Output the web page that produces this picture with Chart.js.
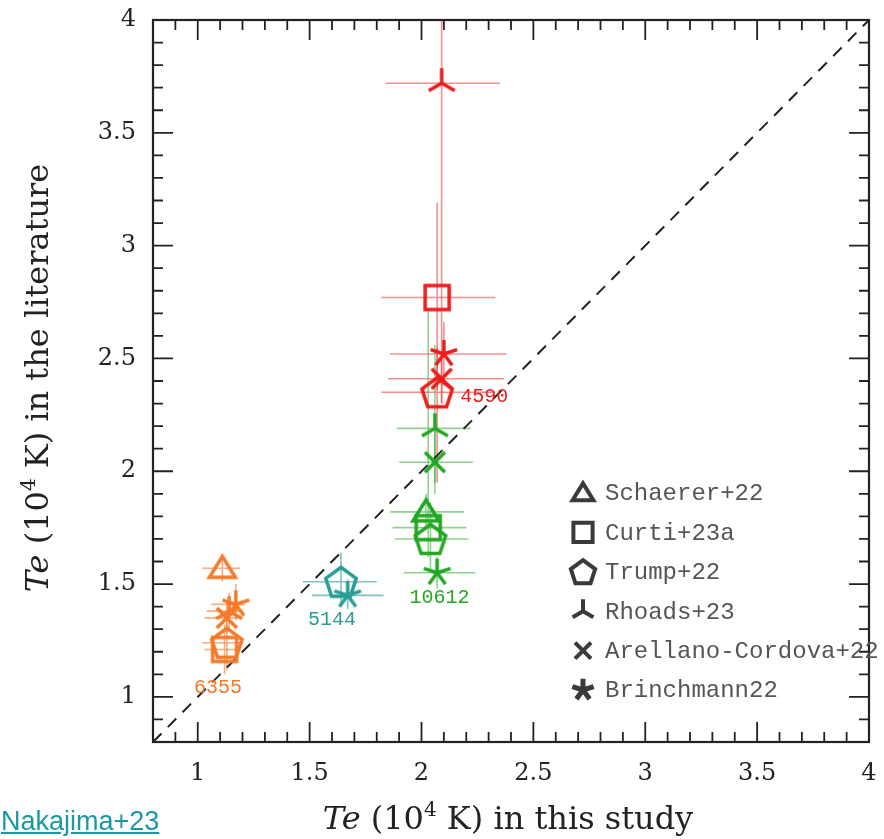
<!DOCTYPE html>
<html>
<head>
<meta charset="utf-8">
<script src="https://cdn.jsdelivr.net/npm/chart.js@4/dist/chart.umd.min.js"></script>
<style>
  html, body { margin: 0; padding: 0; background: #fff; }
  #wrap { position: relative; width: 884px; height: 839px; }
  #credit {
    position: absolute; left: 1px; top: 808px;
    font: 27px/27px "Liberation Sans", Arial, sans-serif;
    color: #1b98a3; text-decoration: underline;
  }
</style>
</head>
<body>
<div id="wrap">
  <canvas id="teChart" width="884" height="839"></canvas>
  <a id="credit" href="#">Nakajima+23</a>
</div>
<script>
// literature sources, in legend order
const sources = ["Schaerer+22", "Curti+23a", "Trump+22", "Rhoads+23", "Arellano-Cordova+22", "Brinchmann22"];
const shapes = ["triangle", "square", "pentagon", "tripod", "cross", "asterisk"];
const galaxyIds = ["4590", "10612", "5144", "6355"];

// Te in 1e4 K: [source, this study, lo, hi, literature, lo, hi]
const te4590 = [
  [1, 2.07, 1.82, 2.33, 2.77, 2.36, 3.19],
  [3, 2.09, 1.84, 2.35, 3.72, 2.30, 4.40],
  [5, 2.10, 1.86, 2.38, 2.52, 2.38, 2.66],
  [4, 2.09, 1.85, 2.37, 2.41, 2.30, 2.52],
  [2, 2.07, 1.82, 2.33, 2.35, 1.95, 2.55]
];
const te10612 = [
  [0, 2.02, 1.86, 2.19, 1.82, 1.76, 1.90],
  [1, 2.03, 1.87, 2.20, 1.75, 1.62, 2.72],
  [2, 2.04, 1.88, 2.21, 1.70, 1.56, 1.86],
  [3, 2.06, 1.89, 2.22, 2.19, 1.95, 2.56],
  [4, 2.06, 1.90, 2.23, 2.04, 1.90, 2.18],
  [5, 2.07, 1.92, 2.24, 1.55, 1.48, 1.62]
];
const te5144 = [
  [2, 1.64, 1.47, 1.80, 1.51, 1.40, 1.64],
  [5, 1.67, 1.51, 1.83, 1.45, 1.39, 1.52]
];
const te6355 = [
  [0, 1.11, 1.02, 1.19, 1.57, 1.51, 1.62],
  [5, 1.17, 1.06, 1.21, 1.41, 1.34, 1.50],
  [3, 1.14, 1.04, 1.20, 1.38, 1.30, 1.46],
  [4, 1.13, 1.03, 1.19, 1.35, 1.28, 1.42],
  [2, 1.13, 1.02, 1.20, 1.24, 1.12, 1.36],
  [1, 1.12, 1.03, 1.19, 1.21, 1.10, 1.32]
];
const galaxyData = [te4590, te10612, te5144, te6355];

// where the galaxy ids are written (data units)
const galaxyLabelAt = [[2.28, 2.33], [2.08, 1.44], [1.60, 1.34], [1.09, 1.04]];
const oneToOne = [0.8, 4];
const axisRange = [0.8, 4];

const galaxyColors = ["#ee1c1c", "#22a822", "#2a9d96", "#f47a2a"];
const barColors = ["rgba(238,70,70,0.6)", "rgba(50,175,50,0.55)", "rgba(42,157,150,0.6)", "rgba(244,122,42,0.6)"];

function traceMarker(g, shape, s) {
  g.beginPath();
  if (shape === "triangle") {
    g.moveTo(0, -12 * s); g.lineTo(13 * s, 9 * s); g.lineTo(-13 * s, 9 * s); g.closePath();
  } else if (shape === "square") {
    g.rect(-12 * s, -12 * s, 24 * s, 24 * s);
  } else if (shape === "pentagon") {
    for (let k = 0; k < 5; k++) {
      const a = -Math.PI / 2 + k * 2 * Math.PI / 5;
      g.lineTo(16 * s * Math.cos(a), 16 * s * Math.sin(a) + 1.5 * s);
    }
    g.closePath();
  } else if (shape === "tripod") {
    for (const d of [-90, 30, 150]) {
      const a = d * Math.PI / 180;
      g.moveTo(0, 0); g.lineTo(15 * s * Math.cos(a), 15 * s * Math.sin(a));
    }
  } else if (shape === "cross") {
    g.moveTo(-10 * s, -10 * s); g.lineTo(10 * s, 10 * s);
    g.moveTo(10 * s, -10 * s); g.lineTo(-10 * s, 10 * s);
  } else if (shape === "asterisk") {
    for (let k = 0; k < 5; k++) {
      const a = -Math.PI / 2 + k * 2 * Math.PI / 5;
      g.moveTo(0, 0); g.lineTo(14 * s * Math.cos(a), 14 * s * Math.sin(a));
    }
  }
}

function marker(shape, color) {
  const c = document.createElement("canvas");
  c.width = 46; c.height = 46;
  const g = c.getContext("2d");
  g.translate(23, 23);
  g.strokeStyle = color;
  g.lineWidth = 3.5;
  traceMarker(g, shape, 1);
  g.stroke();
  return c;
}

const datasets = [{
  type: "line",
  data: oneToOne.map(v => ({ x: v, y: v })),
  borderColor: "#222",
  borderWidth: 2,
  borderDash: [12, 9],
  pointRadius: 0,
  order: 2
}];
sources.forEach((name, s) => {
  const pts = [], styles = [];
  galaxyData.forEach((rows, g) => {
    rows.filter(r => r[0] === s).forEach(r => {
      pts.push({ x: r[1], y: r[4] });
      styles.push(marker(shapes[s], galaxyColors[g]));
    });
  });
  datasets.push({ type: "scatter", label: name, data: pts, pointStyle: styles, pointRadius: 14, order: 1 });
});

const errorBars = {
  id: "errorBars",
  beforeDatasetsDraw(chart) {
    const { ctx, chartArea: a, scales: { x, y } } = chart;
    ctx.save();
    ctx.beginPath();
    ctx.rect(a.left, a.top, a.right - a.left, a.bottom - a.top);
    ctx.clip();
    ctx.lineWidth = 1.6;
    galaxyData.forEach((rows, g) => {
      ctx.strokeStyle = barColors[g];
      rows.forEach(r => {
        const px = x.getPixelForValue(r[1]), py = y.getPixelForValue(r[4]);
        ctx.beginPath();
        ctx.moveTo(x.getPixelForValue(r[2]), py);
        ctx.lineTo(x.getPixelForValue(r[3]), py);
        ctx.moveTo(px, y.getPixelForValue(r[5]));
        ctx.lineTo(px, y.getPixelForValue(r[6]));
        ctx.stroke();
      });
    });
    ctx.restore();
  }
};

function isMajor(v) { return Math.abs(v * 2 - Math.round(v * 2)) < 1e-6; }

// frame, inward ticks on all sides, galaxy ids, legend
const decorations = {
  id: "decorations",
  afterDatasetsDraw(chart) {
    const { ctx, chartArea: a, scales: { x, y } } = chart;
    ctx.save();
    ctx.strokeStyle = "#222";
    ctx.lineWidth = 2.2;
    ctx.strokeRect(a.left, a.top, a.right - a.left, a.bottom - a.top);
    ctx.lineWidth = 1.8;
    ctx.beginPath();
    x.ticks.forEach(t => {
      const px = x.getPixelForValue(t.value), len = isMajor(t.value) ? 20 : 10;
      ctx.moveTo(px, a.bottom); ctx.lineTo(px, a.bottom - len);
      ctx.moveTo(px, a.top); ctx.lineTo(px, a.top + len);
    });
    y.ticks.forEach(t => {
      const py = y.getPixelForValue(t.value), len = isMajor(t.value) ? 20 : 10;
      ctx.moveTo(a.left, py); ctx.lineTo(a.left + len, py);
      ctx.moveTo(a.right, py); ctx.lineTo(a.right - len, py);
    });
    ctx.stroke();

    ctx.font = '20px "Liberation Mono", monospace';
    ctx.textAlign = "center";
    ctx.textBaseline = "middle";
    galaxyIds.forEach((id, g) => {
      ctx.fillStyle = galaxyColors[g];
      ctx.fillText(id, x.getPixelForValue(galaxyLabelAt[g][0]), y.getPixelForValue(galaxyLabelAt[g][1]));
    });

    ctx.textAlign = "left";
    ctx.font = '24px "Liberation Mono", monospace';
    sources.forEach((name, s) => {
      const ly = 493 + s * 39.4;
      ctx.save();
      ctx.translate(583, ly);
      ctx.strokeStyle = "#3a3a3a";
      ctx.lineWidth = shapes[s] === "asterisk" ? 5 : 4;
      traceMarker(ctx, shapes[s], 0.8);
      ctx.stroke();
      ctx.restore();
      ctx.fillStyle = "#555";
      ctx.fillText(name, 605, ly + 1);
    });
    ctx.restore();
  },
  afterDraw(chart) {
    const { ctx } = chart;
    drawTitle(ctx, 508, 821, "in this study", false);
    drawTitle(ctx, 40, 378, "in the literature", true);
  }
};

function drawTitle(ctx, cx, cy, rest, rotate) {
  const serif = '"DejaVu Serif", serif';
  const parts = [
    { t: "Te", f: "italic 32px " + serif, dy: 0 },
    { t: " (10", f: "32px " + serif, dy: 0 },
    { t: "4", f: "20px " + serif, dy: -10 },
    { t: " K) " + rest, f: "32px " + serif, dy: 0 }
  ];
  ctx.save();
  ctx.translate(cx, cy);
  if (rotate) ctx.rotate(-Math.PI / 2);
  ctx.fillStyle = "#222";
  ctx.textBaseline = "middle";
  ctx.textAlign = "left";
  let total = 0;
  parts.forEach(p => { ctx.font = p.f; p.w = ctx.measureText(p.t).width; total += p.w; });
  let px = -total / 2;
  parts.forEach(p => { ctx.font = p.f; ctx.fillText(p.t, px, p.dy); px += p.w; });
  ctx.restore();
}

const tickFont = { family: '"DejaVu Serif", serif', size: 24 };
const tickLabel = v => isMajor(v) ? String(+v.toFixed(1)) : "";
// keep the plot box fixed, whatever the edge labels need
const noEdgePadding = s => { s.paddingLeft = 0; s.paddingRight = 0; s.paddingTop = 0; s.paddingBottom = 0; };

new Chart(document.getElementById("teChart"), {
  data: { datasets },
  options: {
    responsive: false,
    animation: false,
    layout: { padding: { top: 20, right: 8, left: 0, bottom: 0 } },
    plugins: { legend: { display: false }, tooltip: { enabled: false } },
    scales: {
      x: {
        type: "linear", min: axisRange[0], max: axisRange[1],
        grid: { display: false, drawTicks: false }, border: { display: false },
        ticks: { stepSize: 0.1, autoSkip: false, maxRotation: 0, padding: 17, font: tickFont, color: "#222", callback: tickLabel },
        afterFit: s => { s.height = 97; noEdgePadding(s); }
      },
      y: {
        type: "linear", min: axisRange[0], max: axisRange[1],
        grid: { display: false, drawTicks: false }, border: { display: false },
        ticks: { stepSize: 0.1, autoSkip: false, padding: 17, font: tickFont, color: "#222", callback: tickLabel },
        afterFit: s => { s.width = 153; noEdgePadding(s); }
      }
    }
  },
  plugins: [errorBars, decorations]
});
</script>
</body>
</html>
